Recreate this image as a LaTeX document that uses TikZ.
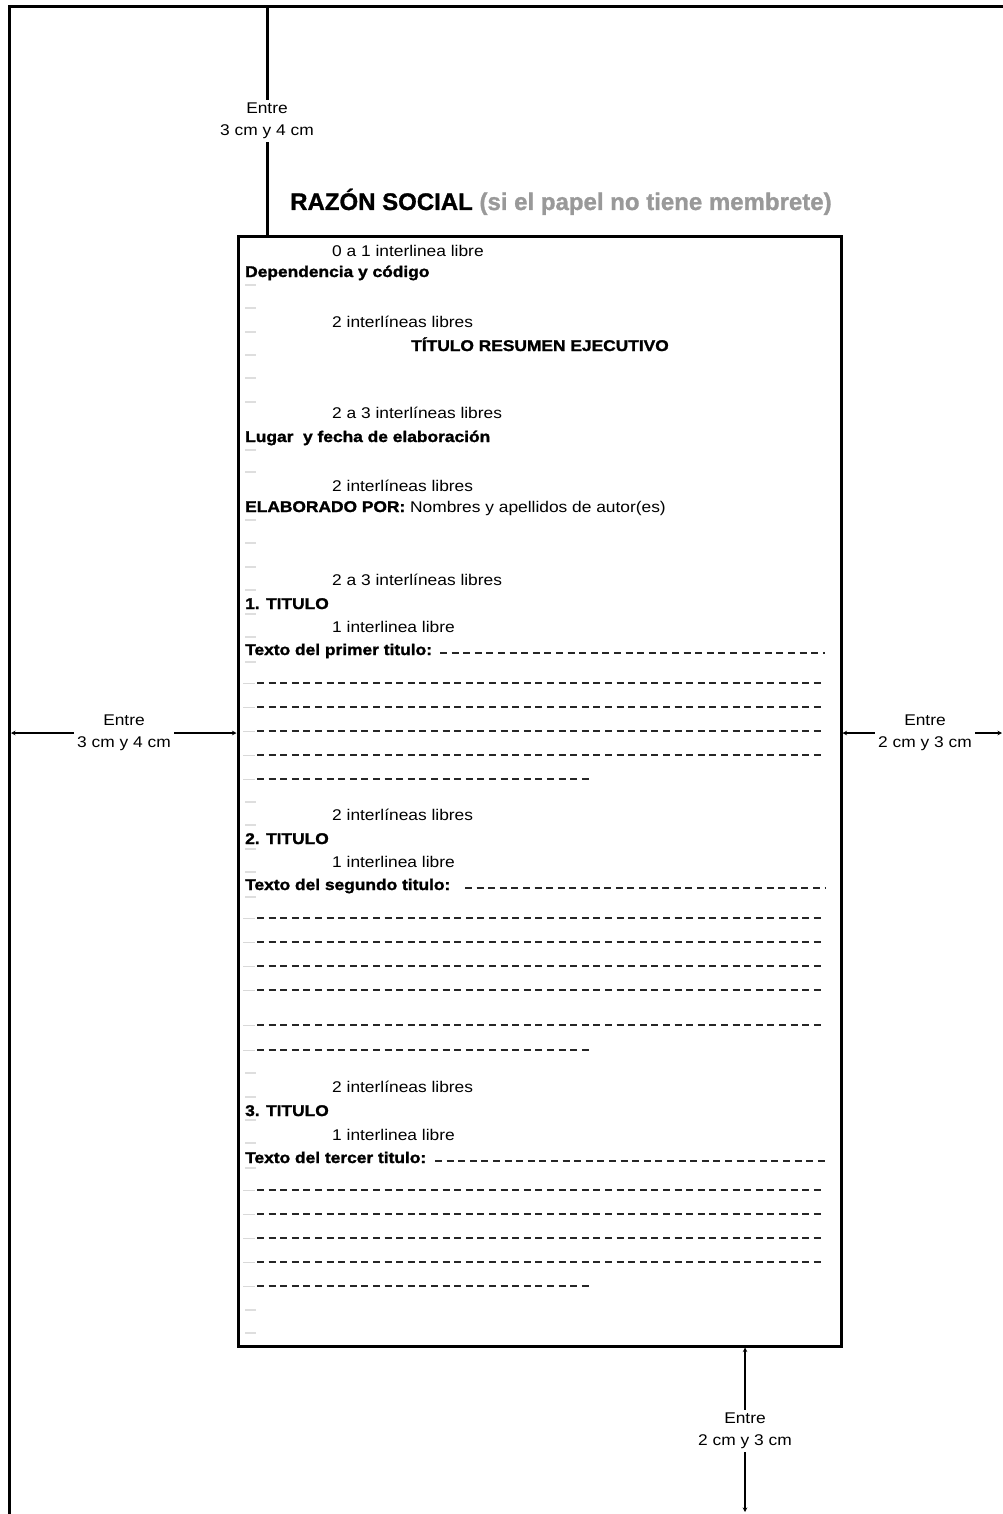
\documentclass[tikz,border=0pt]{standalone}
\usepackage{fontspec}
\setmainfont{Liberation Sans}[FakeStretch=1.12, BoldFeatures={FakeBold=1.6}]
\newfontfamily\headfont{Liberation Sans}[BoldFeatures={FakeBold=1.2}]
\usetikzlibrary{arrows.meta}
\begin{document}
\begin{tikzpicture}[x=1pt,y=-1pt,
  frame/.style={line width=3pt, black},
  dimline/.style={line width=2pt, {Stealth[length=4.5pt,width=4.5pt]}-{Stealth[length=4.5pt,width=4.5pt]}},
  dimlabel/.style={font=\fontsize{15.5}{22}\selectfont, fill=white, align=center, inner sep=3pt},
  note/.style={font=\fontsize{15.5}{18}\selectfont, anchor=base west, inner sep=0pt},
  head/.style={font=\fontsize{15.5}{18}\selectfont\bfseries, anchor=base west, inner sep=0pt},
  rule/.style={line width=2pt, black!85, dash pattern=on 7pt off 4.6pt},
  lead/.style={line width=1pt, black!15},
  pmark/.style={line width=1.2pt, black!13},
]
\useasboundingbox (0,0) rectangle (1003,1514);
\fill[white] (0,0) rectangle (1003,1514);

% outer page edges
\coordinate (tl) at (9,7);
\coordinate (tr) at (1003,7);
\coordinate (bl) at (9,1514);
\draw[frame] (bl) -- (tl) -- (tr);

% text area box
\node[draw, frame, minimum width=603pt, minimum height=1109pt, anchor=north west, inner sep=0pt, outer sep=0pt] (page) at (238,237) {};

% top margin
\coordinate (topdim) at (267,7);
\draw[frame] (topdim) -- (topdim |- page.north);
\node[dimlabel] (toplbl) at (267,121) {Entre\\3 cm y 4 cm};

% left margin
\coordinate (leftdim) at (11,733);
\draw[dimline, shorten >=1.5pt] (leftdim) -- (page.west |- leftdim);
\node[dimlabel] (leftlbl) at (124,733) {Entre\\3 cm y 4 cm};

% right margin
\coordinate (rightdim) at (1002,733);
\draw[dimline, shorten <=1.5pt] (page.east |- rightdim) -- (rightdim);
\node[dimlabel] (rightlbl) at (925,733) {Entre\\2 cm y 3 cm};

% bottom margin
\coordinate (botdim) at (745,1512);
\draw[dimline, line width=2.5pt, shorten <=1.5pt] (page.south -| botdim) -- (botdim);
\node[dimlabel] (botlbl) at (745,1431) {Entre\\2 cm y 3 cm};

% heading
\node[anchor=base west, inner sep=0pt, font=\headfont\fontsize{24}{28}\selectfont\bfseries] (razon) at (290,210) {RAZÓN SOCIAL \textcolor{black!40}{(si el papel no tiene membrete)}};

% faint paragraph marks
\foreach \y in {285,308,332,355,378,402,450,472,520,543,567,590,614,637,662,802,825,849,872,897,1073,1097,1120,1143,1168,1310,1333}
  \draw[pmark] (245,\y) -- (256,\y);

% body
\node[note] (n1) at (332,256) {0 a 1 interlinea libre};
\node[head] (dep) at (245,277) {Dependencia y código};
\node[note] (n2) at (332,327) {2 interlíneas libres};
\node[head, anchor=base] (tit) at (540,351) {TÍTULO RESUMEN EJECUTIVO};
\node[note] (n3) at (332,418) {2 a 3 interlíneas libres};
\node[head] (lug) at (245,442) {Lugar\ \ y fecha de elaboración};
\node[note] (n4) at (332,491) {2 interlíneas libres};
\node[head] (elab) at (245,512) {ELABORADO POR: \mdseries Nombres y apellidos de autor(es)};
\node[note] (n5) at (332,585) {2 a 3 interlíneas libres};
\node[head] (t1) at (245,609) {1. TITULO};
\node[note] (n6) at (332,632) {1 interlinea libre};
\node[head] (x1) at (245,655) {Texto del primer titulo:};

\node[note] (n7) at (332,820) {2 interlíneas libres};
\node[head] (t2) at (245,844) {2. TITULO};
\node[note] (n8) at (332,867) {1 interlinea libre};
\node[head] (x2) at (245,890) {Texto del segundo titulo:};

\node[note] (n9) at (332,1092) {2 interlíneas libres};
\node[head] (t3) at (245,1116) {3. TITULO};
\node[note] (n10) at (332,1140) {1 interlinea libre};
\node[head] (x3) at (245,1163) {Texto del tercer titulo:};

% writing lines
\draw[rule] (440,653) -- (825,653);
\draw[rule] (465,888) -- (825,888);
\draw[rule] (435,1161) -- (825,1161);
\foreach \y in {683,707,731,755,918,942,966,990,1025,1190,1214,1238,1262}{
  \draw[lead] (243,\y) -- (255,\y);
  \draw[rule] (257,\y) -- (825,\y);
}
\foreach \y in {779,1050,1286}{
  \draw[lead] (243,\y) -- (255,\y);
  \draw[rule] (257,\y) -- (590,\y);
}
\end{tikzpicture}
\end{document}
